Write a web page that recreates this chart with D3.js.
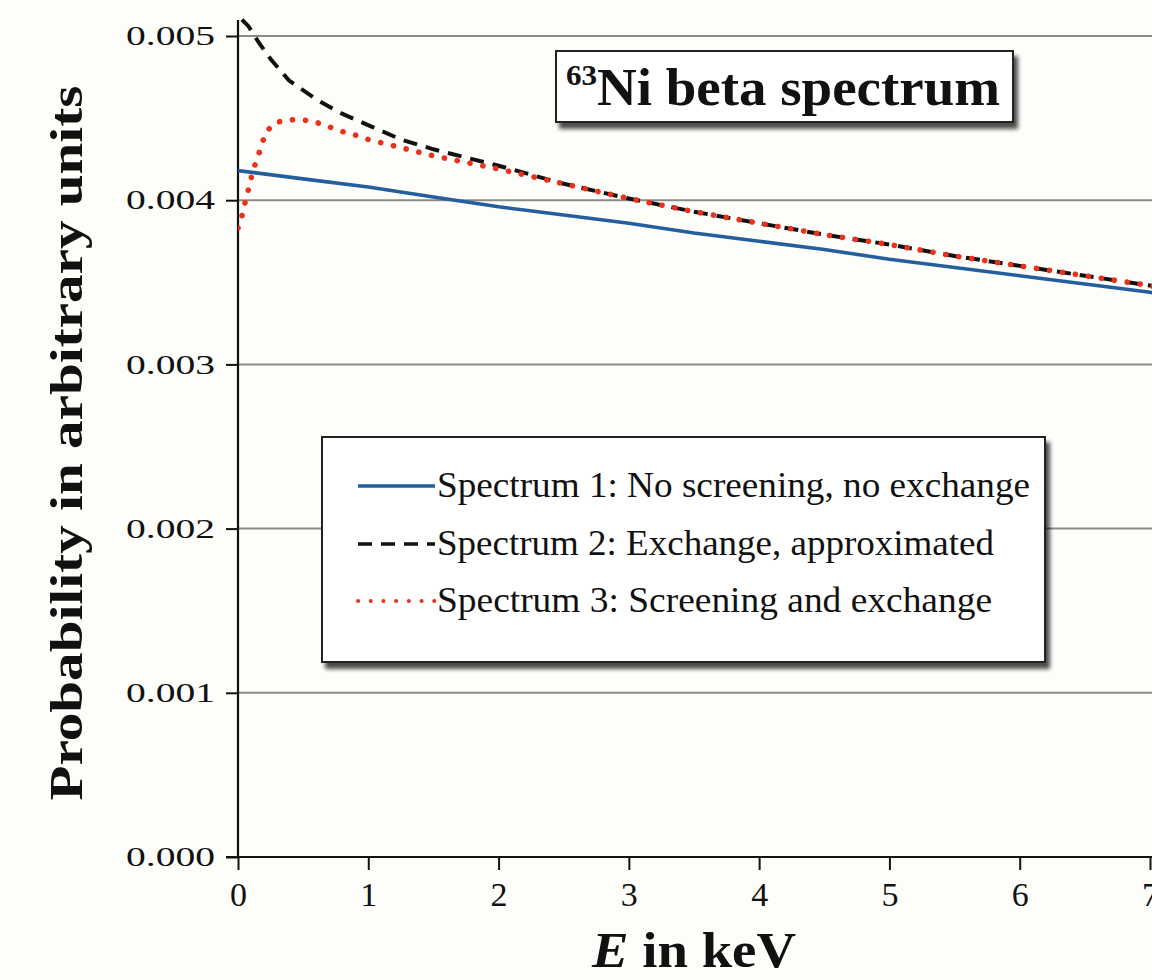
<!DOCTYPE html>
<html>
<head>
<meta charset="utf-8">
<script src="https://cdn.jsdelivr.net/npm/d3@7"></script>
<style>
  html, body { margin: 0; padding: 0; background: #fdfdfa; }
  svg { display: block; }
  text { font-family: "Liberation Serif", "Times New Roman", serif; fill: #111; }
</style>
</head>
<body>
<svg id="chart" width="1152" height="980"></svg>
<script>
// Energy grid (keV) and probability values for each spectrum
const energy1 = [0, 0.5, 1, 1.5, 2, 2.5, 3, 3.5, 4, 4.5, 5, 5.5, 6, 6.5, 7, 7.05];
const spectrum1 = [0.00418, 0.00413, 0.00408, 0.00402, 0.00396, 0.00391, 0.00386, 0.00380,
                   0.00375, 0.00370, 0.00364, 0.00359, 0.00354, 0.00349, 0.00344, 0.00343];

const energy2 = [0.03, 0.08, 0.16, 0.25, 0.39, 0.61, 0.79, 1.02, 1.25, 1.5, 2, 2.5, 3, 3.5,
                 4, 4.5, 5, 5.5, 6, 6.5, 7, 7.05];
const spectrum2 = [0.00510, 0.00506, 0.00496, 0.00486, 0.00473, 0.00461, 0.00453, 0.00445,
                   0.00437, 0.00431, 0.00421, 0.00410, 0.00401, 0.00393, 0.00386, 0.00379,
                   0.00373, 0.00366, 0.00360, 0.00354, 0.00348, 0.00347];

const energy3 = [0, 0.02, 0.04, 0.06, 0.09, 0.11, 0.15, 0.18, 0.21, 0.28, 0.38, 0.48, 0.58,
                 0.69, 0.79, 0.89, 1.0, 1.1, 1.2, 1.5, 2, 2.5, 3, 3.5, 4, 4.5, 5, 5.5, 6,
                 6.5, 7, 7.05];
const spectrum3 = [0.00383, 0.00388, 0.00393, 0.00401, 0.00409, 0.00417, 0.00426, 0.00433,
                   0.00441, 0.00447, 0.00449, 0.00449, 0.00448, 0.00445, 0.00442, 0.00440,
                   0.00437, 0.00435, 0.00433, 0.00427, 0.00419, 0.00410, 0.00401, 0.00393,
                   0.00386, 0.00379, 0.00373, 0.00366, 0.00360, 0.00354, 0.00348, 0.00347];

const xTicks = [0, 1, 2, 3, 4, 5, 6, 7];
const yTicks = [0, 0.001, 0.002, 0.003, 0.004, 0.005];
const legendLabels = [
  "Spectrum 1: No screening, no exchange",
  "Spectrum 2: Exchange, approximated",
  "Spectrum 3: Screening and exchange"
];

const svg = d3.select("#chart");
const W = 1152, H = 980;

const x = d3.scaleLinear().domain([0, 7]).range([238, 1150]);
const y = d3.scaleLinear().domain([0, 0.005]).range([857, 36]);

const defs = svg.append("defs");
defs.append("clipPath").attr("id", "plotClip")
  .append("rect").attr("x", 238).attr("y", 0).attr("width", W - 238).attr("height", 857);
const shadow = defs.append("filter").attr("id", "boxShadow")
  .attr("x", "-5%").attr("y", "-5%").attr("width", "115%").attr("height", "130%");
shadow.append("feGaussianBlur").attr("in", "SourceAlpha").attr("stdDeviation", 2.2).attr("result", "b");
shadow.append("feOffset").attr("in", "b").attr("dx", 4).attr("dy", 6).attr("result", "o");
shadow.append("feComponentTransfer").attr("in", "o").attr("result", "s")
  .append("feFuncA").attr("type", "linear").attr("slope", 0.7);
const merge = shadow.append("feMerge");
merge.append("feMergeNode").attr("in", "s");
merge.append("feMergeNode").attr("in", "SourceGraphic");

// horizontal gridlines
svg.append("g").selectAll("line").data(yTicks.filter(d => d > 0)).join("line")
  .attr("x1", 238).attr("x2", W)
  .attr("y1", d => y(d)).attr("y2", d => y(d))
  .attr("stroke", "#8a8a86").attr("stroke-width", 2);

// y axis
const yAxis = svg.append("g").attr("transform", "translate(238,0)")
  .call(d3.axisLeft(y).tickValues(yTicks).tickFormat(d3.format(".3f")).tickSize(12).tickPadding(11));
yAxis.select(".domain").remove();
yAxis.selectAll(".tick line").attr("stroke", "#111").attr("stroke-width", 2);
yAxis.selectAll(".tick text")
  .attr("font-size", 27).attr("font-family", "Liberation Serif").attr("fill", "#222")
  .attr("textLength", 89).attr("lengthAdjust", "spacingAndGlyphs");
svg.append("line").attr("x1", 238).attr("x2", 238).attr("y1", 20).attr("y2", 858)
  .attr("stroke", "#111").attr("stroke-width", 2.2);

// x axis
const xAxis = svg.append("g").attr("transform", "translate(0,857)")
  .call(d3.axisBottom(x).tickValues(xTicks).tickFormat(d3.format("d")).tickSize(13).tickPadding(12));
xAxis.select(".domain").remove();
xAxis.selectAll(".tick line").attr("stroke", "#111").attr("stroke-width", 2);
xAxis.selectAll(".tick text")
  .attr("font-size", 34).attr("font-family", "Liberation Serif").attr("fill", "#222");
svg.append("line").attr("x1", 226).attr("x2", W).attr("y1", 857).attr("y2", 857)
  .attr("stroke", "#111").attr("stroke-width", 2.2);

// spectra
const line = d3.line().x(d => x(d[0])).y(d => y(d[1]));
const plot = svg.append("g").attr("clip-path", "url(#plotClip)");
plot.append("path").datum(d3.zip(energy1, spectrum1)).attr("d", line)
  .attr("fill", "none").attr("stroke", "#245e9c").attr("stroke-width", 3.6);
plot.append("path").datum(d3.zip(energy2, spectrum2)).attr("d", line)
  .attr("fill", "none").attr("stroke", "#111").attr("stroke-width", 4)
  .attr("stroke-dasharray", "14 9");
plot.append("path").datum(d3.zip(energy3, spectrum3)).attr("d", line)
  .attr("fill", "none").attr("stroke", "#e8321e").attr("stroke-width", 5.6)
  .attr("stroke-linecap", "round").attr("stroke-dasharray", "0.1 13");

// title box
const tb = svg.append("g");
tb.append("rect").attr("x", 556).attr("y", 51).attr("width", 457).attr("height", 71)
  .attr("fill", "#fff").attr("stroke", "#222").attr("stroke-width", 2)
  .attr("filter", "url(#boxShadow)");
const title = tb.append("text").attr("x", 566).attr("y", 105)
  .attr("font-weight", "bold").attr("font-size", 53)
  .attr("textLength", 434).attr("lengthAdjust", "spacingAndGlyphs");
title.append("tspan").attr("font-size", 30).attr("dy", -20).text("63");
title.append("tspan").attr("dy", 20).text("Ni beta spectrum");

// legend
const lg = svg.append("g");
lg.append("rect").attr("x", 322).attr("y", 437).attr("width", 723).attr("height", 225)
  .attr("fill", "#fff").attr("stroke", "#222").attr("stroke-width", 2)
  .attr("filter", "url(#boxShadow)");
const rowsY = [486, 544, 601];
const styles = [
  { stroke: "#245e9c", width: 3.6, dash: null, cap: "butt" },
  { stroke: "#111", width: 3.6, dash: "14 9", cap: "butt" },
  { stroke: "#e8321e", width: 4, dash: "0.1 12.6", cap: "round" }
];
const textLens = [593, 557, 555];
legendLabels.forEach((lab, i) => {
  lg.append("line").attr("x1", 358).attr("x2", 435)
    .attr("y1", rowsY[i]).attr("y2", rowsY[i])
    .attr("stroke", styles[i].stroke).attr("stroke-width", styles[i].width)
    .attr("stroke-dasharray", styles[i].dash).attr("stroke-linecap", styles[i].cap);
  lg.append("text").attr("x", 437).attr("y", rowsY[i] + 11)
    .attr("font-size", 36).attr("fill", "#222")
    .attr("textLength", textLens[i]).attr("lengthAdjust", "spacingAndGlyphs")
    .text(lab);
});

// axis titles
svg.append("text")
  .attr("transform", "translate(82,443) rotate(-90)")
  .attr("text-anchor", "middle").attr("font-weight", "bold").attr("font-size", 46)
  .attr("textLength", 715).attr("lengthAdjust", "spacingAndGlyphs")
  .text("Probability in arbitrary units");

const xt = svg.append("text").attr("x", 694).attr("y", 967)
  .attr("text-anchor", "middle").attr("font-weight", "bold").attr("font-size", 50)
  .attr("textLength", 204).attr("lengthAdjust", "spacingAndGlyphs");
xt.append("tspan").attr("font-style", "italic").text("E");
xt.append("tspan").text(" in keV");
</script>
</body>
</html>
